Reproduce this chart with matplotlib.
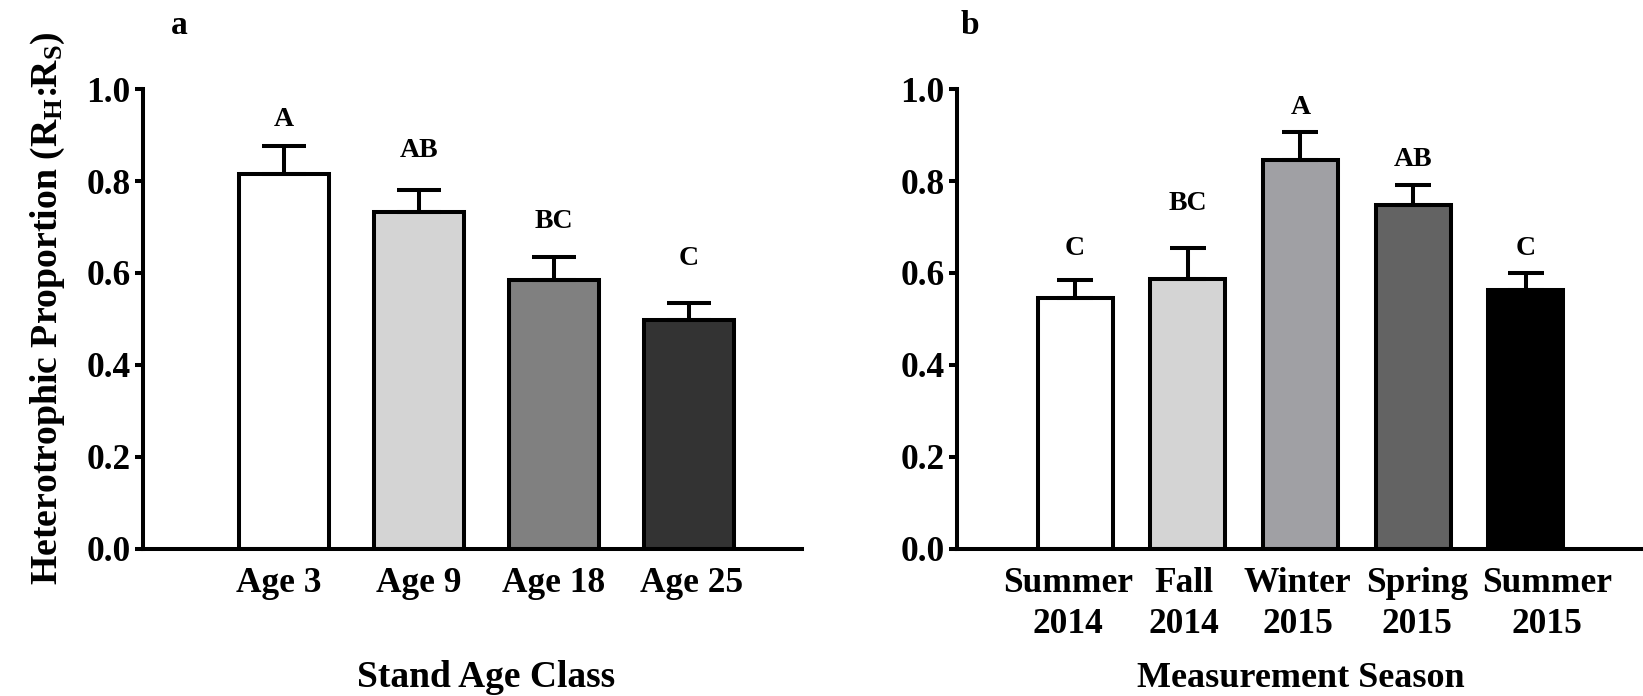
import numpy as np
import matplotlib
matplotlib.use("Agg")
import matplotlib.pyplot as plt
from matplotlib.transforms import ScaledTranslation

# Heterotrophic proportion of soil respiration (RH:RS), means and upper SE
age_classes = ["Age 3", "Age 9", "Age 18", "Age 25"]
age_means = [0.816, 0.732, 0.585, 0.497]
age_se = [0.060, 0.049, 0.050, 0.038]
age_letters = ["A", "AB", "BC", "C"]

seasons = ["Summer\n2014", "Fall\n2014", "Winter\n2015", "Spring\n2015", "Summer\n2015"]
season_means = [0.546, 0.586, 0.847, 0.749, 0.562]
season_se = [0.039, 0.068, 0.059, 0.043, 0.038]
season_letters = ["C", "BC", "A", "AB", "C"]

yticks = [0.0, 0.2, 0.4, 0.6, 0.8, 1.0]

plt.rcParams["font.family"] = ["Liberation Serif", "DejaVu Serif"]
plt.rcParams["font.weight"] = "bold"
plt.rcParams["mathtext.fontset"] = "custom"
plt.rcParams["mathtext.rm"] = "Liberation Serif:bold"
plt.rcParams["mathtext.bf"] = "Liberation Serif:bold"
plt.rcParams["mathtext.it"] = "Liberation Serif:bold"

LW = 2.9
fig = plt.figure(figsize=(16.43, 6.96), dpi=100)
ax_a = fig.add_axes([0.0870, 0.2119, 0.4009, 0.6598])
ax_b = fig.add_axes([0.5825, 0.2119, 0.4175, 0.6598])


def bar_panel(ax, labels, means, se, letters, colors, width, capsize, xlim, gaps,
              label_shift=None):
    x = np.arange(len(means))
    ax.bar(x, means, width=width, color=colors, edgecolor="black",
           linewidth=LW, zorder=2)
    ax.errorbar(x, means, yerr=[np.zeros(len(se)), se], fmt="none",
                ecolor="black", elinewidth=LW, capsize=capsize,
                capthick=LW, zorder=3)
    for xi, m, s, lab, g in zip(x, means, se, letters, gaps):
        ax.text(xi, m + s + g, lab, ha="center", va="baseline",
                fontsize=20, fontweight="bold")
    ax.set_xlim(*xlim)
    ax.set_ylim(0, 1.0)
    ax.set_yticks(yticks)
    ax.set_yticklabels([f"{t:.1f}" for t in yticks], fontsize=25.5)
    ax.set_xticks(x)
    ax.set_xticklabels(labels, fontsize=25.5, linespacing=1.35)
    ax.tick_params(axis="x", length=0, pad=13)
    ax.tick_params(axis="y", length=6, width=LW, pad=3)
    if label_shift is not None:
        for tl, dx in zip(ax.get_xticklabels(), label_shift):
            tl.set_transform(tl.get_transform() +
                             ScaledTranslation(dx / 72, 0, fig.dpi_scale_trans))
    for side in ["top", "right"]:
        ax.spines[side].set_visible(False)
    for side in ["left", "bottom"]:
        ax.spines[side].set_linewidth(LW)
    return x


xa = bar_panel(ax_a, age_classes, age_means, age_se, age_letters,
               ["white", "#d4d4d4", "#808080", "#333333"],
               0.667, 15.8, (-1.044, 3.834), [0.043, 0.072, 0.063, 0.083],
               label_shift=[-4, 0, 0, 2])
xb = bar_panel(ax_b, seasons, season_means, season_se, season_letters,
               ["white", "#d4d4d4", "#a0a0a4", "#636363", "black"],
               0.665, 13.3, (-1.047, 5.04), [0.055, 0.084, 0.041, 0.042, 0.040],
               label_shift=[-5, -3, -2, 3, 15])

# axis titles centred under the bar groups
for ax, xs, title, size in [(ax_a, xa, "Stand Age Class", 27),
                            (ax_b, xb, "Measurement Season", 26)]:
    x0, x1 = ax.get_xlim()
    pos = ax.get_position()
    fx = pos.x0 + (xs.mean() - x0) / (x1 - x0) * pos.width
    fig.text(fx, 0.013, title, ha="center", va="baseline",
             fontsize=size, fontweight="bold")

fig.text(0.029, 0.557, r"Heterotrophic Proportion (R$_{\mathrm{H}}$:R$_{\mathrm{S}}$)",
         rotation=90, ha="center", va="center", fontsize=27.2, fontweight="bold")

fig.text(0.104, 0.951, "a", fontsize=24, fontweight="bold", va="baseline")
fig.text(0.5845, 0.951, "b", fontsize=24, fontweight="bold", va="baseline")

fig.savefig("out.png", dpi=100, facecolor="white")
